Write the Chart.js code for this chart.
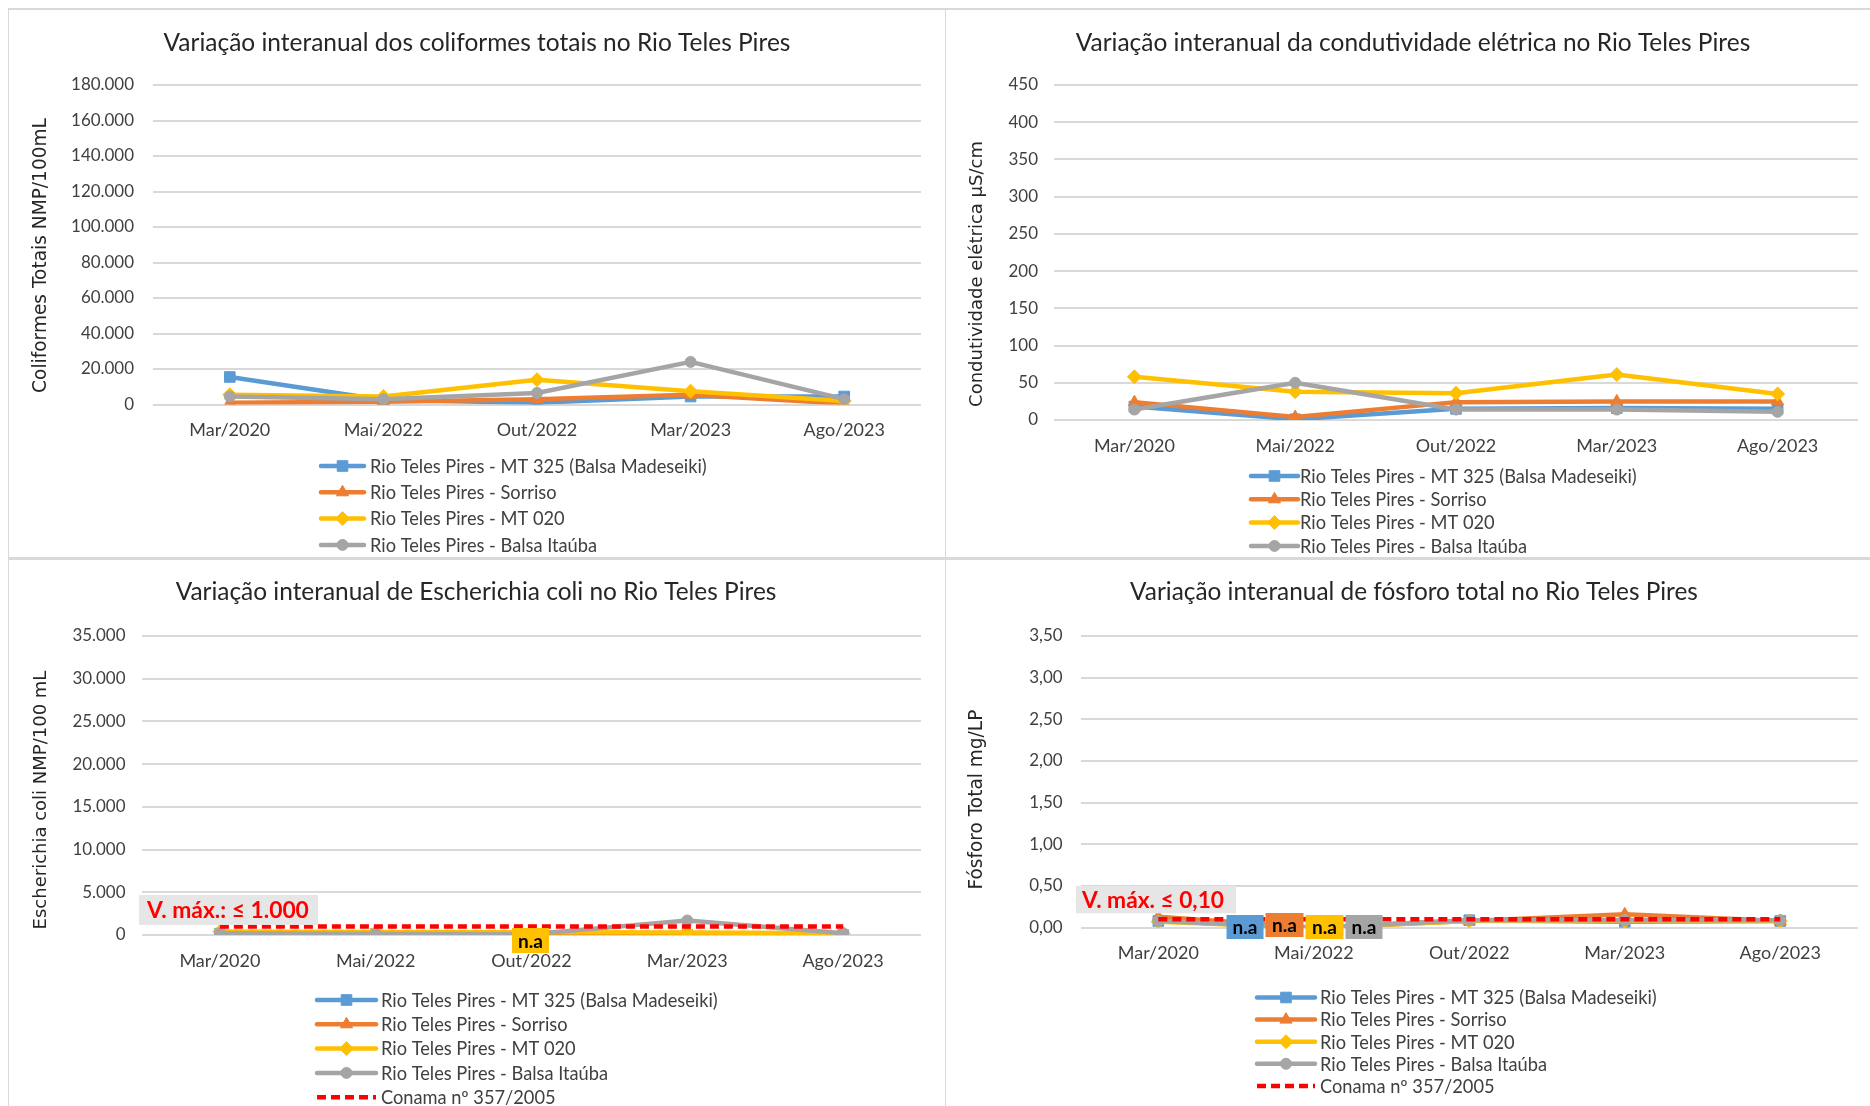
<!DOCTYPE html>
<html><head><meta charset="utf-8">
<script src="https://cdn.jsdelivr.net/npm/chart.js@4.4.1/dist/chart.umd.min.js"></script>
<style>
html,body{margin:0;padding:0;background:#fff;}
body{width:1870px;height:1106px;position:relative;overflow:hidden;font-family:Lato,"DejaVu Sans",sans-serif;}
canvas{position:absolute;}
.ln{position:absolute;background:#d9d9d9;}
</style></head><body>
<div class="ln" style="left:8px;top:8px;width:1862px;height:2px"></div>
<div class="ln" style="left:8px;top:8px;width:1px;height:1098px"></div>
<div class="ln" style="left:945px;top:8px;width:1px;height:1098px"></div>
<div class="ln" style="left:8px;top:557px;width:1862px;height:3px"></div>
<canvas id="c1" width="936" height="547" style="left:9px;top:10px"></canvas>
<canvas id="c2" width="923" height="547" style="left:947px;top:10px"></canvas>
<canvas id="c3" width="936" height="545" style="left:9px;top:561px"></canvas>
<canvas id="c4" width="923" height="545" style="left:947px;top:561px"></canvas>
<script>
// ---------------- DATA ----------------
const categories = ['Mar/2020', 'Mai/2022', 'Out/2022', 'Mar/2023', 'Ago/2023'];
const seriesLabels = ['Rio Teles Pires - MT 325 (Balsa Madeseiki)', 'Rio Teles Pires - Sorriso', 'Rio Teles Pires - MT 020', 'Rio Teles Pires - Balsa Itaúba'];
const limitLabel = 'Conama nº 357/2005';

const chartTitles = [
  'Variação interanual dos coliformes totais no Rio Teles Pires',
  'Variação interanual da condutividade elétrica no Rio Teles Pires',
  'Variação interanual de Escherichia coli no Rio Teles Pires',
  'Variação interanual de fósforo total no Rio Teles Pires'
];
const yAxisTitles = ['Coliformes Totais NMP/100mL', 'Condutividade elétrica µS/cm', 'Escherichia coli NMP/100 mL', 'Fósforo Total mg/LP'];
const yMaxValues = [180000, 450, 35000, 3.5];
const yStepValues = [20000, 50, 5000, 0.5];

// Coliformes totais (NMP/100mL)
const coliformesMT325   = [15500, 2500, 1000, 4500, 4500];
const coliformesSorriso = [1000, 1500, 3000, 5500, 500];
const coliformesMT020   = [5500, 4500, 14000, 7500, 2000];
const coliformesItauba  = [4500, 3000, 6500, 24000, 3000];

// Condutividade elétrica (µS/cm)
const condutividadeMT325   = [18, 1, 15, 16, 15];
const condutividadeSorriso = [24, 4, 24, 25, 25];
const condutividadeMT020   = [58, 38, 36, 61, 35];
const condutividadeItauba  = [14, 50, 14, 14, 11];

// Escherichia coli (NMP/100 mL)
const ecoliMT325   = [150, 100, 100, 0, 0];
const ecoliSorriso = [50, 50, 50, 50, 0];
const ecoliMT020   = [400, 350, null, 300, 200];
const ecoliItauba  = [200, 150, 100, 1700, 200];
const ecoliLimit   = [1000, 1000, 1000, 1000, 1000];

// Fósforo total (mg/L)
const fosforoMT325   = [0.08, 0, 0.09, 0.07, 0.08];
const fosforoSorriso = [0.13, 0, 0.08, 0.16, 0.08];
const fosforoMT020   = [0.07, 0, 0.08, 0.08, 0.08];
const fosforoItauba  = [0.08, 0, 0.09, 0.09, 0.09];
const fosforoLimit   = [0.10, 0.10, 0.10, 0.10, 0.10];

const limitTexts = ['V. máx.: ≤ 1.000', 'V. máx. ≤ 0,10'];
const naText = 'n.a';

// ---------------- STYLE ----------------
const COLORS = ['#5B9BD5', '#ED7D31', '#FFC000', '#A5A5A5'];
const MARKERS = ['rect', 'triangle', 'rectRot', 'circle'];
const MARKER_R = [7.5, 7, 7, 5.5];
const FONT = 'Lato, "DejaVu Sans", sans-serif';
const mctx = document.createElement('canvas').getContext('2d');
function fitSize(text, weight, family, target) {
  mctx.font = weight + ' 100px ' + family;
  return 100 * target / mctx.measureText(text).width;
}
const tickSize = fitSize('180.000', 'normal', FONT, 63);
const xTickSize = fitSize('Mar/2020', 'normal', FONT, 81);
const legendSize = fitSize(seriesLabels[0], 'normal', FONT, 337);

function fmt(v, idx) {
  if (idx === 3) return v.toFixed(2).replace('.', ',');
  const s = Math.round(v).toString();
  return s.replace(/\B(?=(\d{3})+(?!\d))/g, '.');
}

function seriesDS(label, data, i) {
  return {
    label, data, borderColor: COLORS[i], backgroundColor: COLORS[i],
    pointBackgroundColor: COLORS[i], pointBorderColor: COLORS[i],
    borderWidth: 4.5, pointRadius: MARKER_R[i], pointHoverRadius: MARKER_R[i],
    pointStyle: MARKERS[i], pointBorderWidth: 1, tension: 0, order: 3 - i,
    spanGaps: true, borderCapStyle: 'round', borderJoinStyle: 'round', fill: false
  };
}
function limitDS(label, data) {
  return {
    label, data, borderColor: '#FF0000', backgroundColor: '#FF0000', borderWidth: 4.5,
    borderDash: [9, 5], pointRadius: 0, order: -1, fill: false, isLimit: true
  };
}

const decoPlugin = {
  id: 'deco',
  afterDraw(chart, args, o) {
    const ctx = chart.ctx;
    const xs = chart.scales.x, ys = chart.scales.y;
    const ds = chart.data.datasets;
    ctx.save();
    // limit value box
    if (o.limitBox) {
      const lb = o.limitBox;
      const yl = ys.getPixelForValue(lb.value);
      const left = chart.chartArea.left + lb.dx;
      const top = yl - lb.gap - lb.h;
      ctx.fillStyle = '#E7E6E6';
      ctx.fillRect(left, top, lb.w, lb.h);
      const fs = fitSize(lb.text, 'bold', FONT, lb.textW);
      ctx.font = 'bold ' + fs + 'px ' + FONT;
      ctx.fillStyle = '#FF0000';
      ctx.textAlign = 'left'; ctx.textBaseline = 'middle';
      ctx.fillText(lb.text, left + lb.textDx, top + lb.h / 2 + 1);
    }
    // n.a labels
    (o.na || []).forEach(n => {
      const cx = xs.getPixelForValue(n.index) + n.dx;
      const cy = ys.getPixelForValue(0) + n.dy;
      ctx.fillStyle = COLORS[n.dataset];
      ctx.fillRect(cx - n.w / 2, cy - n.h / 2, n.w, n.h);
      ctx.font = 'bold 19px ' + FONT;
      ctx.fillStyle = '#000';
      ctx.textAlign = 'center'; ctx.textBaseline = 'middle';
      ctx.fillText(naText, cx, cy + 1);
    });
    // legend
    const lg = o.legend;
    ds.forEach((d, i) => {
      const y = lg.y0 + i * lg.gap;
      ctx.save();
      ctx.strokeStyle = d.borderColor; ctx.lineWidth = 4.5;
      if (d.isLimit) { ctx.setLineDash([9, 5]); ctx.lineCap = 'butt'; } else { ctx.lineCap = 'round'; }
      ctx.beginPath(); ctx.moveTo(lg.x, y); ctx.lineTo(lg.x + lg.len, y); ctx.stroke();
      ctx.restore();
      if (!d.isLimit) {
        ctx.fillStyle = d.borderColor; ctx.strokeStyle = d.borderColor; ctx.lineWidth = 1;
        Chart.helpers.drawPoint(ctx, { pointStyle: d.pointStyle, radius: d.pointRadius, rotation: 0, borderWidth: 1 }, lg.x + lg.len / 2, y);
      }
      ctx.font = legendSize + 'px ' + FONT;
      ctx.fillStyle = '#404040';
      ctx.textAlign = 'left'; ctx.textBaseline = 'middle';
      ctx.fillText(d.label, lg.textX, y + 1);
    });
    // y axis title
    const yt = o.yTitle;
    const fs = fitSize(yt.text, 'normal', '"DejaVu Sans"', yt.len);
    ctx.translate(yt.x, yt.y);
    ctx.rotate(-Math.PI / 2);
    ctx.font = fs + 'px "DejaVu Sans"';
    ctx.fillStyle = '#262626';
    ctx.textAlign = 'center'; ctx.textBaseline = 'middle';
    ctx.fillText(yt.text, 0, 0);
    ctx.restore();
  }
};

function makeChart(id, idx, datasets, g) {
  const canvas = document.getElementById(id);
  const W = canvas.width, H = canvas.height;
  const titleSize = fitSize(chartTitles[idx], 'normal', FONT, g.titleW);
  const th = titleSize * 1.2;
  const padRight = W - g.right;
  const padLeft = Math.max(0, 2 * g.titleX - W + padRight);
  new Chart(canvas, {
    type: 'line',
    data: { labels: categories, datasets },
    plugins: [decoPlugin],
    options: {
      responsive: false, animation: false, devicePixelRatio: 1,
      layout: { padding: { left: padLeft, top: 0, right: padRight, bottom: H - g.bottom - 40 } },
      plugins: {
        legend: { display: false },
        tooltip: { enabled: false },
        title: {
          display: true, text: chartTitles[idx], color: '#262626',
          font: { family: FONT, size: titleSize, weight: 'normal', lineHeight: 1.2 },
          padding: { top: g.titleY - th / 2, bottom: g.top - g.titleY - th / 2 }
        },
        deco: g.deco
      },
      scales: {
        x: {
          offset: true,
          grid: { display: false, drawTicks: false },
          border: { display: false },
          ticks: { color: '#404040', font: { family: FONT, size: xTickSize, lineHeight: 1.2 }, padding: 26 - xTickSize * 0.6, maxRotation: 0, autoSkip: false },
          afterFit(s) { s.height = 40; }
        },
        y: {
          min: 0, max: yMaxValues[idx],
          grid: { color: '#D9D9D9', lineWidth: 2, drawTicks: false },
          border: { display: false },
          ticks: { stepSize: yStepValues[idx], color: '#404040', font: { family: FONT, size: tickSize }, padding: g.tickPad, callback: v => fmt(v, idx) },
          afterFit(s) { s.width = g.left - padLeft; }
        }
      }
    }
  });
}

makeChart('c1', 0, [
  seriesDS(seriesLabels[0], coliformesMT325, 0),
  seriesDS(seriesLabels[1], coliformesSorriso, 1),
  seriesDS(seriesLabels[2], coliformesMT020, 2),
  seriesDS(seriesLabels[3], coliformesItauba, 3)
], { left: 144, right: 912, top: 75, bottom: 394.5, titleX: 468, titleY: 33, titleW: 627, tickPad: 19,
     deco: { legend: { x: 312, len: 43, textX: 361, y0: 456, gap: 26.3 },
             yTitle: { text: yAxisTitles[0], x: 32, y: 245.5, len: 275 } } });

makeChart('c2', 1, [
  seriesDS(seriesLabels[0], condutividadeMT325, 0),
  seriesDS(seriesLabels[1], condutividadeSorriso, 1),
  seriesDS(seriesLabels[2], condutividadeMT020, 2),
  seriesDS(seriesLabels[3], condutividadeItauba, 3)
], { left: 107, right: 911, top: 75, bottom: 410, titleX: 466, titleY: 33, titleW: 675, tickPad: 16,
     deco: { legend: { x: 304, len: 47, textX: 353, y0: 466, gap: 23.3 },
             yTitle: { text: yAxisTitles[1], x: 30, y: 264, len: 266 } } });

makeChart('c3', 2, [
  seriesDS(seriesLabels[0], ecoliMT325, 0),
  seriesDS(seriesLabels[1], ecoliSorriso, 1),
  seriesDS(seriesLabels[2], ecoliMT020, 2),
  seriesDS(seriesLabels[3], ecoliItauba, 3),
  limitDS(limitLabel, ecoliLimit)
], { left: 133, right: 912, top: 75, bottom: 374, titleX: 467, titleY: 31.5, titleW: 601, tickPad: 16.5,
     deco: { legend: { x: 308, len: 59, textX: 372, y0: 439, gap: 24.3 },
             yTitle: { text: yAxisTitles[2], x: 32, y: 239, len: 259 },
             limitBox: { value: ecoliLimit[0], text: limitTexts[0], dx: -3, w: 179, h: 30, gap: 1.5, textDx: 8, textW: 162 },
             na: [{ dataset: 2, index: 2, dx: -1, dy: 5.5, w: 37, h: 25 }] } });

makeChart('c4', 3, [
  seriesDS(seriesLabels[0], fosforoMT325, 0),
  seriesDS(seriesLabels[1], fosforoSorriso, 1),
  seriesDS(seriesLabels[2], fosforoMT020, 2),
  seriesDS(seriesLabels[3], fosforoItauba, 3),
  limitDS(limitLabel, fosforoLimit)
], { left: 133.6, right: 911, top: 75, bottom: 366.7, titleX: 467, titleY: 31.5, titleW: 568, tickPad: 18,
     deco: { legend: { x: 310, len: 58, textX: 373, y0: 436.5, gap: 22.1 },
             yTitle: { text: yAxisTitles[3], x: 30, y: 238.6, len: 180 },
             limitBox: { value: fosforoLimit[0], text: limitTexts[1], dx: -4.6, w: 160, h: 27.5, gap: 6, textDx: 6, textW: 142 },
             na: [{ dataset: 0, index: 1, dx: -68.8, dy: -0.7, w: 37, h: 24 },
                  { dataset: 1, index: 1, dx: -29.3, dy: -2.7, w: 38, h: 24 },
                  { dataset: 2, index: 1, dx: 10.7, dy: -0.7, w: 38, h: 24 },
                  { dataset: 3, index: 1, dx: 50.2, dy: -0.7, w: 37, h: 24 }] } });
</script>
</body></html>
